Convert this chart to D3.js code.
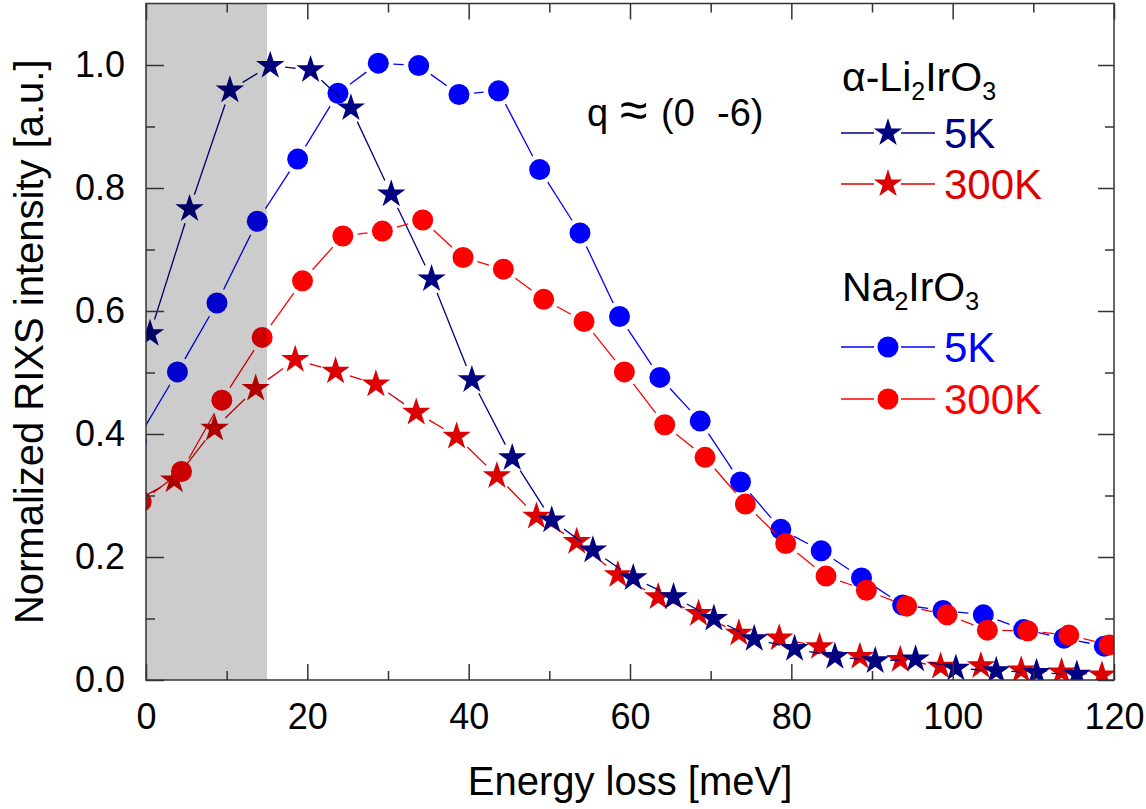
<!DOCTYPE html>
<html>
<head>
<meta charset="utf-8">
<script src="https://cdn.jsdelivr.net/npm/d3@7.9.0/dist/d3.min.js"></script>
<style>
  body { margin: 0; background: #fff; }
  text { font-family: "Liberation Sans", Arial, Helvetica, sans-serif; }
</style>
</head>
<body>
<svg id="chart" width="1146" height="809"></svg>
<script>
// alpha-Li2IrO3, 5K (stars)
const liE5 = [0.5, 5.4, 10.4, 15.4, 20.4, 25.4, 30.4, 35.4, 40.4, 45.4, 50.3, 55.4, 60.4, 65.4, 70.4, 75.4, 80.4, 85.4, 90.4, 95.4, 100.4, 105.4, 110.4, 115.4];
const liI5 = [0.563, 0.766, 0.959, 0.999, 0.992, 0.930, 0.790, 0.652, 0.488, 0.361, 0.260, 0.211, 0.166, 0.135, 0.100, 0.067, 0.051, 0.038, 0.031, 0.034, 0.019, 0.015, 0.012, 0.009];

// alpha-Li2IrO3, 300K (stars)
const liE300 = [-1.5, 3.5, 8.5, 13.6, 18.5, 23.5, 28.5, 33.5, 38.5, 43.5, 48.4, 53.4, 58.5, 63.5, 68.5, 73.5, 78.5, 83.5, 88.5, 93.5, 98.5, 103.5, 108.5, 113.5, 118.5];
const liI300 = [0.29, 0.325, 0.409, 0.474, 0.521, 0.502, 0.481, 0.435, 0.396, 0.332, 0.266, 0.225, 0.171, 0.135, 0.108, 0.076, 0.068, 0.054, 0.038, 0.033, 0.022, 0.023, 0.016, 0.013, 0.008];

// Na2IrO3, 5K (circles)
const naE5 = [-1.2, 3.9, 8.8, 13.8, 18.8, 23.8, 28.8, 33.8, 38.8, 43.7, 48.8, 53.8, 58.7, 63.7, 68.7, 73.7, 78.7, 83.7, 88.7, 93.8, 98.8, 103.8, 108.8, 113.8, 118.8];
const naI5 = [0.388, 0.501, 0.613, 0.746, 0.847, 0.954, 1.003, 0.999, 0.952, 0.958, 0.830, 0.727, 0.591, 0.492, 0.421, 0.322, 0.245, 0.210, 0.166, 0.122, 0.113, 0.106, 0.082, 0.068, 0.055];

// Na2IrO3, 300K (circles)
const naE300 = [-0.6, 4.4, 9.4, 14.4, 19.4, 24.4, 29.3, 34.3, 39.3, 44.3, 49.3, 54.3, 59.3, 64.3, 69.3, 74.3, 79.3, 84.3, 89.3, 94.3, 99.3, 104.3, 109.3, 114.4, 119.4];
const naI300 = [0.29, 0.339, 0.455, 0.557, 0.649, 0.722, 0.730, 0.748, 0.687, 0.668, 0.619, 0.583, 0.501, 0.415, 0.362, 0.286, 0.222, 0.169, 0.146, 0.120, 0.106, 0.081, 0.080, 0.073, 0.057];

const xMajor = [0, 20, 40, 60, 80, 100, 120];
const xMinor = [10, 30, 50, 70, 90, 110];
const yMajor = [0, 0.2, 0.4, 0.6, 0.8, 1.0];
const yMinor = [0.1, 0.3, 0.5, 0.7, 0.9];
const shadeRange = [0, 15];

const svg = d3.select('#chart');
const x = d3.scaleLinear().domain([0, 120]).range([146, 1114]);
const y = d3.scaleLinear().domain([0, 1.1]).range([680, 3.5]);

svg.append('clipPath').attr('id', 'plotClip')
  .append('rect')
  .attr('x', x(0)).attr('y', y(1.1))
  .attr('width', x(120) - x(0)).attr('height', y(0) - y(1.1));

const plot = svg.append('g').attr('clip-path', 'url(#plotClip)');

// line pieces that stop short of the markers
function gapSegments(es, is, gap) {
  let segs = [];
  for (let i = 0; i < es.length - 1; i++) {
    let x1 = x(es[i]), y1 = y(is[i]), x2 = x(es[i + 1]), y2 = y(is[i + 1]);
    let dx = x2 - x1, dy = y2 - y1, len = Math.hypot(dx, dy);
    if (len <= 2 * gap) continue;
    segs.push([x1 + dx / len * gap, y1 + dy / len * gap, x2 - dx / len * gap, y2 - dy / len * gap]);
  }
  return segs;
}

const starPath = d3.symbol(d3.symbolStar, 250)();

function drawSeries(es, is, color, lineColor, shape) {
  let g = plot.append('g');
  g.selectAll('line')
    .data(gapSegments(es, is, 15))
    .join('line')
    .attr('x1', d => d[0]).attr('y1', d => d[1])
    .attr('x2', d => d[2]).attr('y2', d => d[3])
    .attr('stroke', lineColor)
    .attr('stroke-width', 1.3);
  let pts = es.map((e, i) => [e, is[i]]);
  if (shape === 'star') {
    g.selectAll('path.mk')
      .data(pts)
      .join('path')
      .attr('class', 'mk')
      .attr('d', starPath)
      .attr('transform', d => `translate(${x(d[0])},${y(d[1])})`)
      .attr('fill', color);
  } else {
    g.selectAll('circle')
      .data(pts)
      .join('circle')
      .attr('cx', d => x(d[0])).attr('cy', d => y(d[1]))
      .attr('r', 10.5)
      .attr('fill', color);
  }
}

drawSeries(liE300, liI300, '#dd0000', '#dd0000', 'star');
drawSeries(naE5, naI5, '#0000ff', '#0000ff', 'circle');
drawSeries(liE5, liI5, '#000080', '#000080', 'star');
drawSeries(naE300, naI300, '#ff0000', '#ff0000', 'circle');

// grey band, drawn on top so the marks below get darker
plot.append('rect')
  .attr('x', x(shadeRange[0])).attr('y', y(1.1))
  .attr('width', x(shadeRange[1]) - x(shadeRange[0]))
  .attr('height', y(0) - y(1.1))
  .attr('fill', '#000')
  .attr('fill-opacity', 0.2);

// axes with inward ticks
function styleAxis(g) {
  g.select('.domain').remove();
  g.selectAll('line').attr('stroke', '#333').attr('stroke-width', 1.5);
  g.selectAll('text').attr('font-size', 36).attr('fill', '#000')
    .attr('font-family', '"Liberation Sans", Arial, sans-serif');
}

svg.append('g').attr('transform', `translate(0,${y(0)})`)
  .call(d3.axisBottom(x).tickValues(xMajor).tickSize(-16).tickPadding(23).tickFormat(d3.format('d')))
  .call(styleAxis);
svg.append('g').attr('transform', `translate(0,${y(0)})`)
  .call(d3.axisBottom(x).tickValues(xMinor).tickSize(-9).tickFormat(''))
  .call(styleAxis);
svg.append('g').attr('transform', `translate(0,${y(1.1)})`)
  .call(d3.axisTop(x).tickValues(xMajor).tickSize(-16).tickFormat(''))
  .call(styleAxis);
svg.append('g').attr('transform', `translate(0,${y(1.1)})`)
  .call(d3.axisTop(x).tickValues(xMinor).tickSize(-9).tickFormat(''))
  .call(styleAxis);

svg.append('g').attr('transform', `translate(${x(0)},0)`)
  .call(d3.axisLeft(y).tickValues(yMajor).tickSize(-18).tickPadding(21).tickFormat(d3.format('.1f')))
  .call(styleAxis);
svg.append('g').attr('transform', `translate(${x(0)},0)`)
  .call(d3.axisLeft(y).tickValues(yMinor).tickSize(-9).tickFormat(''))
  .call(styleAxis);
svg.append('g').attr('transform', `translate(${x(120)},0)`)
  .call(d3.axisRight(y).tickValues(yMajor).tickSize(-16).tickFormat(''))
  .call(styleAxis);
svg.append('g').attr('transform', `translate(${x(120)},0)`)
  .call(d3.axisRight(y).tickValues(yMinor).tickSize(-9).tickFormat(''))
  .call(styleAxis);

// frame
svg.append('rect')
  .attr('x', x(0)).attr('y', y(1.1))
  .attr('width', x(120) - x(0)).attr('height', y(0) - y(1.1))
  .attr('fill', 'none').attr('stroke', '#333').attr('stroke-width', 1.5);

// axis titles
svg.append('text')
  .attr('x', (x(0) + x(120)) / 2).attr('y', 795)
  .attr('text-anchor', 'middle').attr('font-size', 40)
  .text('Energy loss [meV]');
svg.append('text')
  .attr('transform', `translate(43,${(y(0) + y(1.1)) / 2}) rotate(-90)`)
  .attr('text-anchor', 'middle').attr('font-size', 40)
  .text('Normalized RIXS intensity [a.u.]');

// q label
svg.append('text').attr('x', 587).attr('y', 126).attr('font-size', 38).text('q');
svg.append('text').attr('x', 620).attr('y', 127).attr('font-size', 50).text('≈');
svg.append('text').attr('x', 661).attr('y', 126).attr('font-size', 38).text('(0');
svg.append('text').attr('x', 717).attr('y', 126).attr('font-size', 38).text('-6)');

// legend
function formula(xp, yp, parts) {
  let t = svg.append('text').attr('x', xp).attr('y', yp).attr('font-size', 41);
  parts.forEach(p => {
    if (p.sub) {
      t.append('tspan').attr('dy', 9).attr('font-size', 25).text(p.s);
    } else {
      t.append('tspan').attr('dy', p.back ? -9 : 0).text(p.s);
    }
  });
}
formula(842, 91, [{ s: 'α-Li' }, { s: '2', sub: true }, { s: 'IrO', back: true }, { s: '3', sub: true }]);
formula(842, 301, [{ s: 'Na' }, { s: '2', sub: true }, { s: 'IrO', back: true }, { s: '3', sub: true }]);

const legendItems = [
  { label: '5K', color: '#000080', shape: 'star', ly: 133 },
  { label: '300K', color: '#dd0000', shape: 'star', ly: 184 },
  { label: '5K', color: '#0000ff', shape: 'circle', ly: 347 },
  { label: '300K', color: '#ff0000', shape: 'circle', ly: 399 }
];

legendItems.forEach(d => {
  let g = svg.append('g');
  g.append('line').attr('x1', 841).attr('x2', 874).attr('y1', d.ly).attr('y2', d.ly)
    .attr('stroke', d.color).attr('stroke-width', 1.3);
  g.append('line').attr('x1', 901).attr('x2', 935).attr('y1', d.ly).attr('y2', d.ly)
    .attr('stroke', d.color).attr('stroke-width', 1.3);
  if (d.shape === 'star') {
    g.append('path').attr('d', starPath).attr('transform', `translate(888,${d.ly})`).attr('fill', d.color);
  } else {
    g.append('circle').attr('cx', 888).attr('cy', d.ly).attr('r', 10.5).attr('fill', d.color);
  }
  g.append('text').attr('x', 944).attr('y', d.ly + 15).attr('font-size', 42)
    .attr('fill', d.color).text(d.label);
});
</script>
</body>
</html>
